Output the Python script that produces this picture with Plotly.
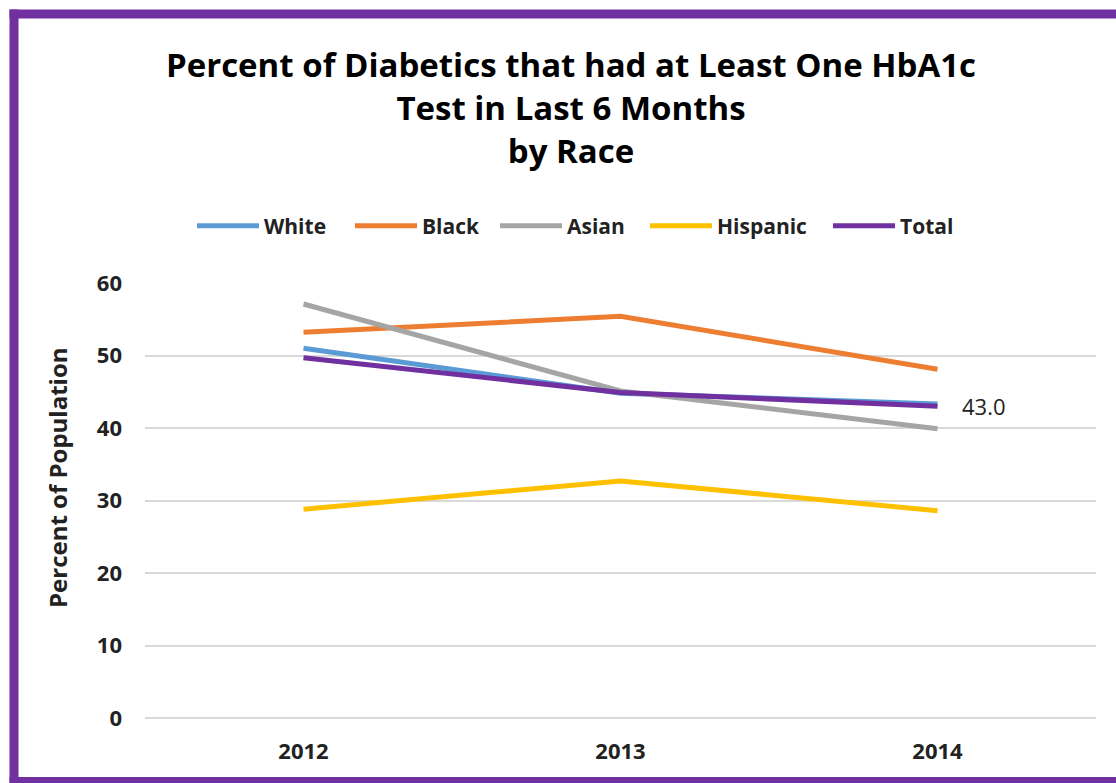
import plotly.graph_objects as go

# Survey years and share of diabetics with at least one HbA1c test (%)
years = ["2012", "2013", "2014"]
white = [51.0, 44.8, 43.3]
black = [53.2, 55.4, 48.1]
asian = [57.1, 45.1, 39.9]
hispanic = [28.8, 32.7, 28.6]
total = [49.7, 44.9, 43.0]

series = [
    ("White", white, "#5B9BD5"),
    ("Black", black, "#ED7D31"),
    ("Asian", asian, "#A5A5A5"),
    ("Hispanic", hispanic, "#FFC000"),
    ("Total", total, "#7030A0"),
]

FONT = "Open Sans"
W, H = 1116, 783
ML, MR, MT, MB = 145, 20, 283, 65
PW, PH = W - ML - MR, H - MT - MB


def px_x(p):
    """page pixel -> paper x"""
    return (p - ML) / PW


def px_y(p):
    """page pixel -> paper y"""
    return (H - MB - p) / PH


# left edge (in page pixels) of each legend entry
legend_left = [197, 355, 500, 650, 833]

fig = go.Figure()
legends = {}
for i, (name, vals, color) in enumerate(series):
    key = "legend" if i == 0 else f"legend{i + 1}"
    fig.add_trace(go.Scatter(
        x=years, y=vals, name=name, mode="lines",
        line=dict(color=color, width=5), legend=key,
    ))
    legends[key] = dict(
        orientation="h", x=px_x(legend_left[i] - 5), xanchor="left", xref="paper",
        y=px_y(226), yanchor="middle",
        font=dict(family=FONT, size=21, color="#222222", weight="bold"),
        itemwidth=62, bgcolor="rgba(0,0,0,0)", borderwidth=0,
    )

# value label on the last Total point (category axes use the category index)
fig.add_annotation(
    x=len(years) - 1, y=total[-1], text=f"{total[-1]:.1f}",
    showarrow=False, xanchor="left", xshift=22,
    font=dict(family=FONT, size=22, color="#222222"),
)

# vertical axis title
fig.add_annotation(
    xref="paper", yref="paper", x=px_x(57), y=px_y(478),
    text="<b>Percent of Population</b>", textangle=-90, showarrow=False,
    xanchor="center", yanchor="middle",
    font=dict(family=FONT, size=24, color="#222222"),
)

# purple frame: top, left and bottom edges
frame = dict(color="#7030A0", width=9)
fig.add_shape(type="line", xref="paper", yref="paper",
              x0=px_x(9.5), x1=px_x(1116), y0=px_y(14), y1=px_y(14), line=frame, layer="above")
fig.add_shape(type="line", xref="paper", yref="paper",
              x0=px_x(14), x1=px_x(14), y0=px_y(9.5), y1=px_y(783), line=frame, layer="above")
fig.add_shape(type="line", xref="paper", yref="paper",
              x0=px_x(9.5), x1=px_x(1116), y0=px_y(781.5), y1=px_y(781.5), line=frame, layer="above")

fig.update_layout(
    width=W, height=H,
    margin=dict(l=ML, r=MR, t=MT, b=MB),
    paper_bgcolor="white", plot_bgcolor="white",
    title=dict(
        text="<b>Percent of Diabetics that had at Least One HbA1c<br>Test in Last 6 Months<br>by Race</b>",
        x=px_x(571), xref="paper", xanchor="center",
        y=1 - 77 / H, yanchor="top",
        font=dict(family=FONT, size=33, color="black"),
    ),
    showlegend=True,
    xaxis=dict(
        type="category", range=[-0.5, 2.5],
        showgrid=False, showline=False, ticks="",
        tickfont=dict(family=FONT, size=22, color="#222222", weight="bold"),
        ticklabelstandoff=18,
        zeroline=False,
    ),
    yaxis=dict(
        range=[0, 60], dtick=10, showgrid=True, gridcolor="#D9D9D9",
        gridwidth=1.5, zeroline=True, zerolinecolor="#D9D9D9", zerolinewidth=1.5,
        ticks="", showline=False,
        tickfont=dict(family=FONT, size=22, color="#222222", weight="bold"),
        ticklabelstandoff=22,
    ),
    **legends,
)

fig.write_html("out.html")
